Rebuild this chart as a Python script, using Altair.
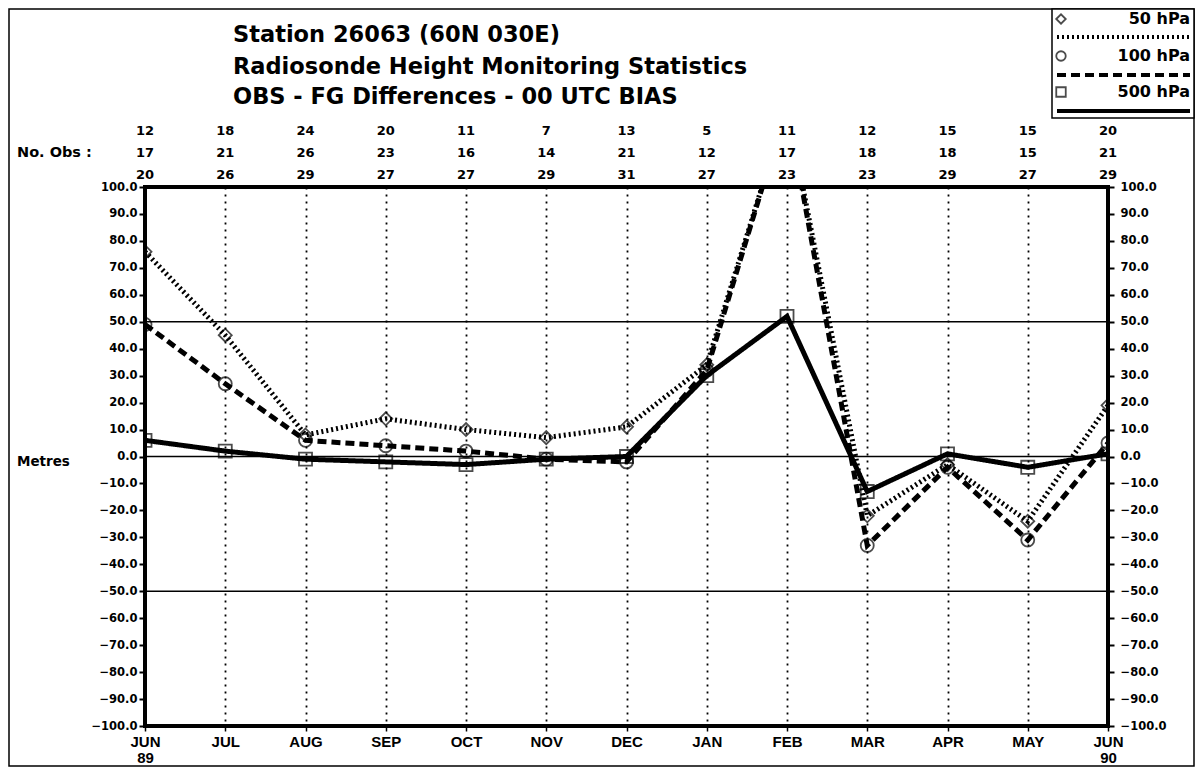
import json
import altair as alt
import pandas as pd

MONTHS = ["JUN", "JUL", "AUG", "SEP", "OCT", "NOV", "DEC", "JAN", "FEB", "MAR", "APR", "MAY", "JUN"]
YEARS = ["89", "", "", "", "", "", "", "", "", "", "", "", "90"]
SERIES = ["50 hPa", "100 hPa", "500 hPa"]
BIAS_50 = [76, 45, 8, 14, 10, 7, 11, 34, 130, -22, -3, -24, 19]
BIAS_100 = [49, 27, 6, 4, 2, -1, -2, 32, 130, -33, -4, -31, 5]
BIAS_500 = [6, 2, -1, -2, -3, -1, 0, 30, 52, -13, 1, -4, 1]
NOBS_50 = [12, 18, 24, 20, 11, 7, 13, 5, 11, 12, 15, 15, 20]
NOBS_100 = [17, 21, 26, 23, 16, 14, 21, 12, 17, 18, 18, 15, 21]
NOBS_500 = [20, 26, 29, 27, 27, 29, 31, 27, 23, 23, 29, 27, 29]
REF_LINES = [-50, 0, 50]
Y_TICKS = list(range(-100, 101, 10))
TITLE = ["Station 26063 (60N 030E)",
         "Radiosonde Height Monitoring Statistics",
         "OBS - FG Differences - 00 UTC  BIAS"]

rows = []
for s, vals in zip(SERIES, [BIAS_50, BIAS_100, BIAS_500]):
    for i, v in enumerate(vals):
        rows.append({"idx": i, "series": s, "bias": v})
df = pd.DataFrame(rows)
months_df = pd.DataFrame({"idx": list(range(len(MONTHS))),
                          "n50": NOBS_50, "n100": NOBS_100, "n500": NOBS_500})
ref_df = pd.DataFrame({"v": REF_LINES})
one = pd.DataFrame({"a": [0]})

FONT = "Liberation Sans"
WIDE = "DejaVu Sans"
DASHES = [[2, 3], [9, 5], [1, 0]]

label_expr = "[{m}[datum.value], {y}[datum.value]]".format(m=json.dumps(MONTHS), y=json.dumps(YEARS))
xs = alt.Scale(domain=[0, 12], nice=False, zero=False)
ys = alt.Scale(domain=[-100, 100], nice=False, zero=False)
xaxis = alt.Axis(values=list(range(13)), labelExpr=label_expr, title=None, grid=True,
                 gridDash=[2, 5], gridWidth=1.8, gridColor="black", domain=False,
                 tickSize=5, tickWidth=1.5, tickColor="black", labelPadding=3,
                 labelFont=FONT, labelFontSize=15, labelFontWeight="bold", labelColor="black",
                 labelLineHeight=16, labelFlush=False)
X = alt.X("idx:Q", scale=xs, axis=xaxis)


def yaxis(orient):
    return alt.Axis(orient=orient, values=Y_TICKS, format=".1f", title=None, grid=False,
                    domain=False, tickSize=6, tickWidth=2, tickColor="black",
                    labelPadding=2 if orient == "left" else 6,
                    labelFont=WIDE, labelFontSize=11.5, labelFontWeight="bold", labelColor="black")


refs = alt.Chart(ref_df).mark_rule(color="black", strokeWidth=1.6).encode(
    y=alt.Y("v:Q", scale=ys, axis=yaxis("left")))

lines = alt.Chart(df).mark_line(clip=True, color="black", strokeWidth=5).encode(
    x=X,
    y=alt.Y("bias:Q", scale=ys, axis=None),
    detail="series:N",
    strokeDash=alt.StrokeDash("series:N", scale=alt.Scale(domain=SERIES, range=DASHES), legend=None),
)

points = alt.Chart(df).mark_point(clip=True, filled=False, color="black", size=170, strokeWidth=1.8).encode(
    x=X,
    y=alt.Y("bias:Q", scale=ys, axis=yaxis("right")),
    shape=alt.Shape("series:N", scale=alt.Scale(domain=SERIES, range=["diamond", "circle", "square"]), legend=None),
)

count_layers = []
for col, ypix in [("n50", -56), ("n100", -34), ("n500", -12)]:
    count_layers.append(
        alt.Chart(months_df).mark_text(font=WIDE, fontSize=13, fontWeight="bold", color="black").encode(
            x=X, y=alt.value(ypix), text=alt.Text(f"{col}:Q")))


def label(txt, x, y, size=14, align="left", font=WIDE):
    return alt.Chart(one).mark_text(text=txt, font=font, fontSize=size, fontWeight="bold",
                                    color="black", align=align, baseline="middle").encode(
        x=alt.value(x), y=alt.value(y))


texts = [label(TITLE[0], 88, -152, 22.5), label(TITLE[1], 88, -120, 22.5), label(TITLE[2], 88, -90, 22.5),
         label("No. Obs :", -128, -34, 14.5), label("Metres", -128, 275, 13.5)]

frame = alt.Chart(one).mark_rect(fill=None, stroke="black", strokeWidth=1.5).encode(
    x=alt.value(-136), x2=alt.value(1049), y=alt.value(-178), y2=alt.value(579))

leg_box = alt.Chart(one).mark_rect(fill="white", stroke="black", strokeWidth=1.5).encode(
    x=alt.value(907), x2=alt.value(1049), y=alt.value(-178), y2=alt.value(-69))
legend = [leg_box]
leg_y = [(-168, -150), (-131, -112), (-95, -76)]
shapes = ["diamond", "circle", "square"]
for (sy, ly), s, d, sh in zip(leg_y, SERIES, DASHES, shapes):
    legend.append(alt.Chart(one).mark_point(filled=False, color="black", size=90, strokeWidth=1.8).encode(
        x=alt.value(916), y=alt.value(sy), shape=alt.value(sh)))
    legend.append(label(s, 1045, sy, 16, "right"))
    legend.append(alt.Chart(one).mark_rule(color="black", strokeWidth=4, strokeDash=d).encode(
        x=alt.value(912), x2=alt.value(1045), y=alt.value(ly)))

chart = alt.layer(refs, lines, points, *count_layers, *texts, frame, *legend).resolve_axis(
    y="independent"
).properties(
    width=963, height=539,
    background="white",
    autosize=alt.AutoSizeParams(type="none"),
    padding={"left": 137, "top": 179, "right": 87, "bottom": 41},
).configure_view(stroke="black", strokeWidth=4)

chart.save("out.html", embed_options={"renderer": "svg", "actions": False})
